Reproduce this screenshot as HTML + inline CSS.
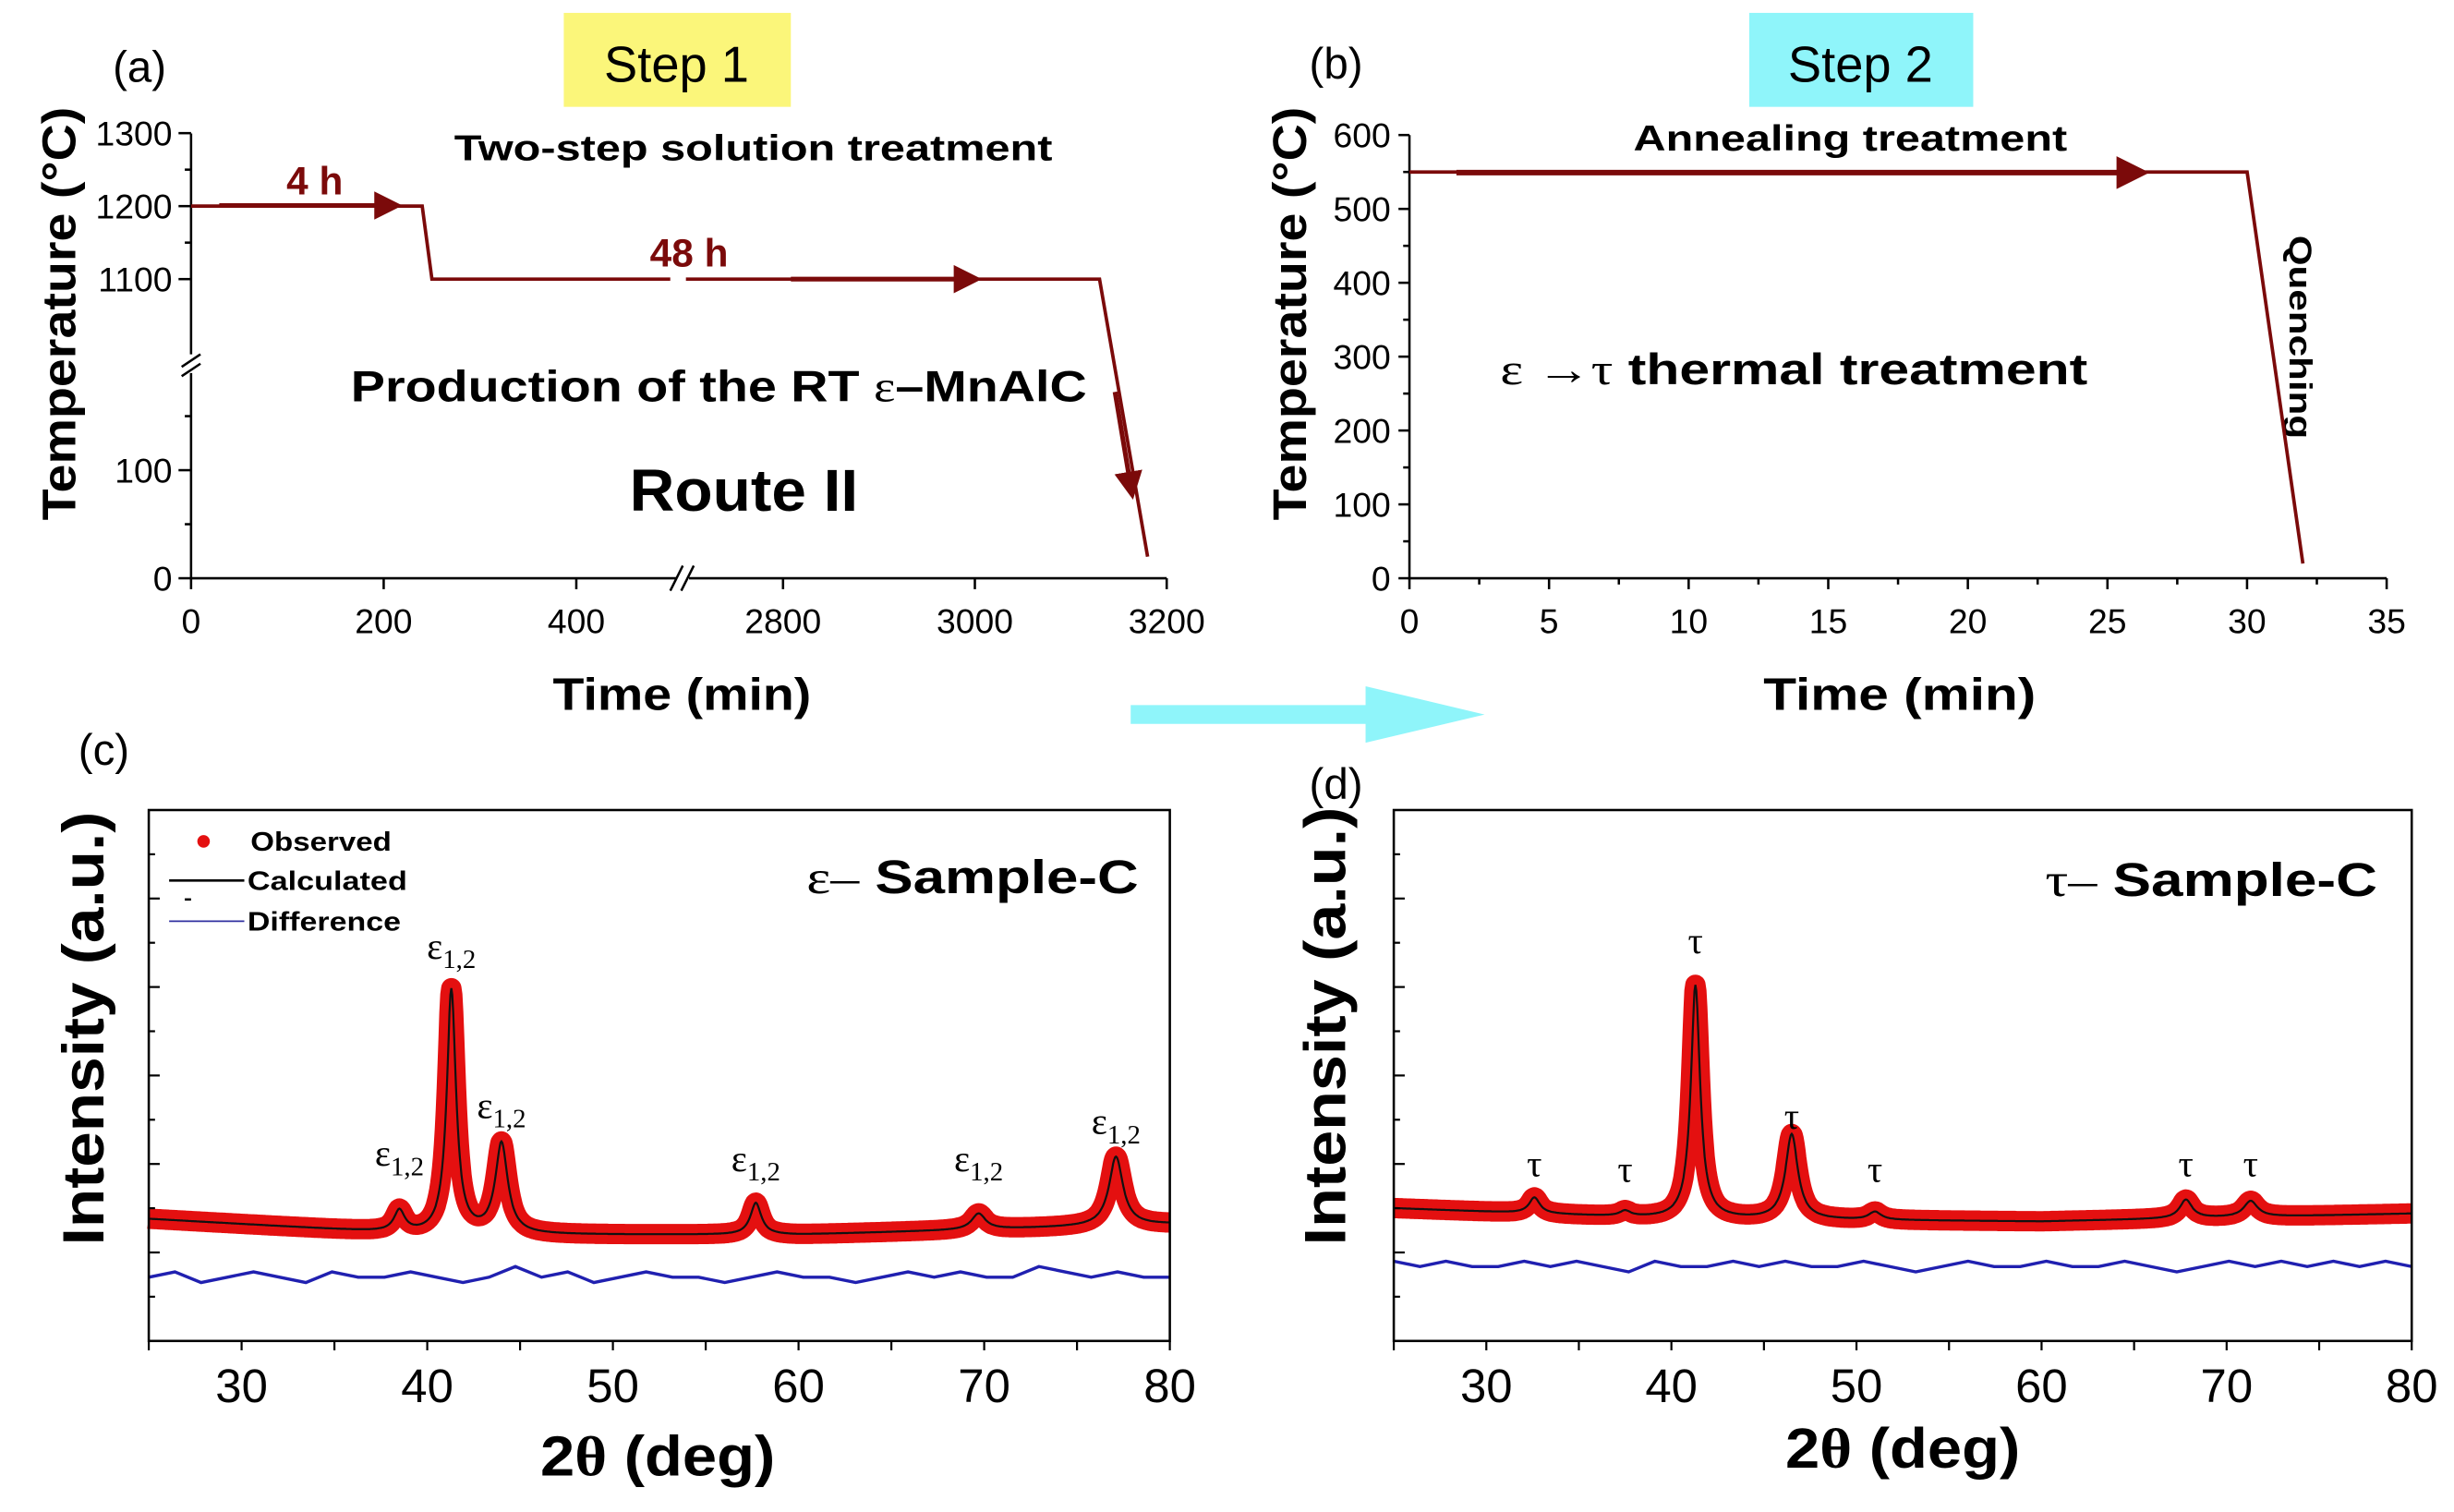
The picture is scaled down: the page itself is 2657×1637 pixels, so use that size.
<!DOCTYPE html>
<html><head><meta charset="utf-8"><style>
html,body{margin:0;padding:0;background:#fff;}
svg{display:block;font-family:"Liberation Sans",Arial,sans-serif;}
</style></head><body>
<svg id="fig" width="2657" height="1637" viewBox="0 0 1567 965" xmlns="http://www.w3.org/2000/svg">
<defs>
<marker id="ah" viewBox="0 0 10 10" refX="5" refY="5" markerWidth="6" markerHeight="6" orient="auto"><path d="M0,0 L10,5 L0,10 z" fill="#7b0a0a"/></marker>
</defs>
<rect width="1567" height="965" fill="#fff"/>
<!-- Panel a -->
<g>
<text x="72" y="52" font-size="28">(a)</text>
<rect x="360" y="8" width="145" height="60" fill="#fbf67a"/>
<text x="432" y="52" font-size="32" text-anchor="middle">Step 1</text>
<text x="290" y="102" font-size="23" font-weight="bold" textLength="382" lengthAdjust="spacingAndGlyphs">Two-step solution treatment</text>
<text x="224" y="256" font-size="28" font-weight="bold" textLength="470" lengthAdjust="spacingAndGlyphs">Production of the RT <tspan font-family="Liberation Serif,serif" font-weight="normal">ε</tspan>–MnAlC</text>
<text x="402" y="326" font-size="38" font-weight="bold" textLength="146" lengthAdjust="spacingAndGlyphs">Route II</text>
<text x="353" y="453" font-size="29" font-weight="bold" textLength="165" lengthAdjust="spacingAndGlyphs">Time (min)</text>
<text transform="translate(48,332) rotate(-90)" font-size="30" font-weight="bold" textLength="264" lengthAdjust="spacingAndGlyphs">Temperature (°C)</text>
<g id="axA" stroke="#000" stroke-width="1.5" fill="none"></g>
<g id="lineA"></g>
<text x="201" y="124" font-size="25" font-weight="bold" fill="#7b0a0a" text-anchor="middle">4 h</text>
<text x="440" y="170" font-size="25" font-weight="bold" fill="#7b0a0a" text-anchor="middle">48 h</text>
</g>
<!-- Panel b -->
<g>
<text x="836" y="50" font-size="28">(b)</text>
<rect x="1117" y="8" width="143" height="60" fill="#8ff5fa"/>
<text x="1188" y="52" font-size="32" text-anchor="middle">Step 2</text>
<text x="1043" y="96" font-size="23" font-weight="bold" textLength="277" lengthAdjust="spacingAndGlyphs">Annealing treatment</text>
<text x="958" y="245" font-size="28" font-weight="bold" textLength="375" lengthAdjust="spacingAndGlyphs"><tspan font-family="Liberation Serif,serif" font-weight="normal">ε →τ</tspan> thermal treatment</text>
<text transform="translate(1462,150) rotate(90)" font-size="20" font-weight="bold" textLength="130" lengthAdjust="spacingAndGlyphs">Quenching</text>
<text x="1126" y="453" font-size="29" font-weight="bold" textLength="174" lengthAdjust="spacingAndGlyphs">Time  (min)</text>
<text transform="translate(834,332) rotate(-90)" font-size="30" font-weight="bold" textLength="264" lengthAdjust="spacingAndGlyphs">Temperature (°C)</text>
<g id="axB" stroke="#000" stroke-width="1.5" fill="none"></g>
<g id="lineB"></g>
</g>
<!-- big cyan arrow -->
<path d="M722,450 L872,450 L872,438 L948,456 L872,474 L872,462 L722,462 Z" fill="#8ff5fa"/>
<!-- Panel c -->
<g>
<text x="50" y="488" font-size="28">(c)</text>
<g id="plotC"></g>
<text x="345" y="942" font-size="36" font-weight="bold" textLength="150" lengthAdjust="spacingAndGlyphs">2<tspan font-family="Liberation Serif,serif">θ</tspan> (deg)</text>
<text transform="translate(66,795) rotate(-90)" font-size="37" font-weight="bold" textLength="277" lengthAdjust="spacingAndGlyphs">Intensity (a.u.)</text>
<text x="515" y="570" font-size="30" font-weight="bold" textLength="212" lengthAdjust="spacingAndGlyphs"><tspan font-family="Liberation Serif,serif" font-weight="normal">ε–</tspan> Sample-C</text>
<circle cx="130" cy="537" r="4" fill="#e41010"/>
<text x="160" y="543" font-size="17" font-weight="bold" textLength="90" lengthAdjust="spacingAndGlyphs">Observed</text>
<line x1="108" y1="562" x2="156" y2="562" stroke="#000" stroke-width="1.5"/>
<text x="158" y="568" font-size="17" font-weight="bold" textLength="102" lengthAdjust="spacingAndGlyphs">Calculated</text>
<line x1="108" y1="588" x2="156" y2="588" stroke="#3030a0" stroke-width="1"/>
<text x="158" y="594" font-size="17" font-weight="bold" textLength="98" lengthAdjust="spacingAndGlyphs">Difference</text>
</g>
<!-- Panel d -->
<g>
<text x="836" y="510" font-size="28">(d)</text>
<g id="plotD"></g>
<text x="1140" y="937" font-size="36" font-weight="bold" textLength="150" lengthAdjust="spacingAndGlyphs">2<tspan font-family="Liberation Serif,serif">θ</tspan> (deg)</text>
<text transform="translate(859,795) rotate(-90)" font-size="37" font-weight="bold" textLength="280" lengthAdjust="spacingAndGlyphs">Intensity (a.u.)</text>
<text x="1306" y="572" font-size="30" font-weight="bold" textLength="212" lengthAdjust="spacingAndGlyphs"><tspan font-family="Liberation Serif,serif" font-weight="normal">τ–</tspan> Sample-C</text>
</g>
</svg>
<script>
// ---- Panel a data ----
const aTimes = [0, 240, 250, 3130, 3180];
const aTemps = [1200, 1200, 1100, 1100, 20];
const aXTicks = [0, 200, 400, 2800, 3000, 3200];
const aYTicks = [0, 100, 1100, 1200, 1300];
// ---- Panel b data ----
const bTimes = [0, 30, 32];
const bTemps = [550, 550, 20];
const bXTicks = [0, 5, 10, 15, 20, 25, 30, 35];
const bYTicks = [0, 100, 200, 300, 400, 500, 600];
// ---- Panel c data ----
const cPeakPos = [38.5, 41.3, 44.0, 57.7, 69.7, 77.1];
const cPeakH = [4, 46, 17, 6, 3, 13];
const cPeakW = [0.35, 0.3, 0.4, 0.35, 0.45, 0.45];
const cBaseX = [25, 40, 60, 80];
const cBaseY = [23, 20, 20, 22];
const cDiff = [12,13,11,12,13,12,11,13,12,12,13,12,11,12,14,12,13,11,12,13,12,12,11,12,13,12,12,11,12,13,12,13,12,12,14,13,12,13,12,12];
const cLabelPos = [38.5, 41.3, 44.0, 57.7, 69.7, 77.1];
const cLabelVal = [33, 72, 42, 32, 32, 39];
// ---- Panel d data ----
const dPeakPos = [32.6, 37.5, 41.3, 46.5, 51.0, 67.8, 71.3];
const dPeakH = [3, 1, 44, 16, 1.5, 3.5, 3];
const dPeakW = [0.35, 0.35, 0.3, 0.4, 0.4, 0.4, 0.45];
const dBaseX = [25, 40, 60, 80];
const dBaseY = [25, 23, 22.5, 24];
const dDiff = [15,14,15,14,14,15,14,15,14,13,15,14,14,15,14,15,14,14,15,14,13,14,15,14,14,15,14,14,15,14,13,14,15,14,15,14,15,14,15,14];
const dLabelPos = [32.6, 37.5, 41.3, 46.5, 51.0, 67.8, 71.3];
const dLabelVal = [31, 30, 73, 40, 30, 31, 31];

const NS = "http://www.w3.org/2000/svg";
function mk(tag, attrs, parent) {
  const e = document.createElementNS(NS, tag);
  for (const k in attrs) e.setAttribute(k, attrs[k]);
  parent.appendChild(e);
  return e;
}
function axXa(t) { return t <= 500 ? 122 + t * 0.615 : 500 + (t - 2800) * 0.6125; }
function axYa(v) { return v <= 200 ? 369 - v * 0.69 : 178 - (v - 1100) * 0.466; }
const axA = document.getElementById('axA');
let l = mk('path', {d: 'M122,85 L122,226 M122,238 L122,369 L432,369 M440,369 L745,369'}, axA);


mk('path', {d: 'M116,234 L128,226 M116,240 L128,232 M428,377 L436,361 M435,377 L443,361'}, axA);
[150, 250, 50, 1150, 1250].forEach(v => { const y = axYa(v); mk('line', {x1: 118, y1: y, x2: 122, y2: y}, axA); });
aYTicks.forEach(v => {
  const y = axYa(v);
  mk('line', {x1: 114, y1: y, x2: 122, y2: y}, axA);
  const t = mk('text', {x: 110, y: y + 8, 'font-size': 22, 'text-anchor': 'end', stroke: 'none', fill: '#000'}, axA);
  t.textContent = v;
  
  
});
aXTicks.forEach(v => {
  const x = axXa(v);
  mk('line', {x1: x, y1: 369, x2: x, y2: 376}, axA);
  const t = mk('text', {x: x, y: 404, 'font-size': 22, 'text-anchor': 'middle', stroke: 'none', fill: '#000'}, axA);
  t.textContent = v;
  
  
});
const lineA = document.getElementById('lineA');
let pa = aTimes.map((t, i) => axXa(t).toFixed(1) + ',' + axYa(aTemps[i]).toFixed(1)).join(' L');
l = mk('path', {d: 'M' + pa, stroke: '#7b0a0a', 'stroke-width': 2.2, fill: 'none'}, lineA);


mk('rect', {x: 428, y: 170, width: 10, height: 16, fill: '#fff'}, lineA);
mk('line', {x1: 140, y1: 131, x2: 248, y2: 131, stroke: '#7b0a0a', 'stroke-width': 3, 'marker-end': 'url(#ah)'}, lineA);
mk('line', {x1: 505, y1: 178, x2: 618, y2: 178, stroke: '#7b0a0a', 'stroke-width': 3, 'marker-end': 'url(#ah)'}, lineA);
mk('line', {x1: 712, y1: 250, x2: 722, y2: 310, stroke: '#7b0a0a', 'stroke-width': 3, 'marker-end': 'url(#ah)'}, lineA);

function axXb(t) { return 900 + t * (1524 - 900) / 35; }
function axYb(v) { return 369 - v * (369 - 86) / 600; }
const axB = document.getElementById('axB');
l = mk('path', {d: 'M900,86 L900,369 L1524,369'}, axB);


bYTicks.forEach(v => {
  const y = axYb(v);
  mk('line', {x1: 893, y1: y, x2: 900, y2: y}, axB);
  if (v < 600) mk('line', {x1: 896, y1: axYb(v + 50), x2: 900, y2: axYb(v + 50)}, axB);
  const t = mk('text', {x: 888, y: y + 8, 'font-size': 22, 'text-anchor': 'end', stroke: 'none', fill: '#000'}, axB);
  t.textContent = v;
  
  
});
bXTicks.forEach(v => {
  const x = axXb(v);
  mk('line', {x1: x, y1: 369, x2: x, y2: 376}, axB);
  if (v < 35) mk('line', {x1: axXb(v + 2.5), y1: 369, x2: axXb(v + 2.5), y2: 373}, axB);
  const t = mk('text', {x: x, y: 404, 'font-size': 22, 'text-anchor': 'middle', stroke: 'none', fill: '#000'}, axB);
  t.textContent = v;
  
  
});
const lineB = document.getElementById('lineB');
let pb = bTimes.map((t, i) => axXb(t).toFixed(1) + ',' + axYb(bTemps[i]).toFixed(1)).join(' L');
l = mk('path', {d: 'M' + pb, stroke: '#7b0a0a', 'stroke-width': 2.2, fill: 'none'}, lineB);


mk('line', {x1: 930, y1: 110, x2: 1362, y2: 110, stroke: '#7b0a0a', 'stroke-width': 3.5, 'marker-end': 'url(#ah)'}, lineB);

function xrd(gid, x0, x1, pos, h, w, bx, by, diff, lpos, lval, sym, sub) {
  const g = document.getElementById(gid);
  const top = 517, bot = 856;
  const X = v => x0 + (v - 25) * (x1 - x0) / 55;
  const Y = v => bot - v * (bot - top) / 100;
  function base(x) {
    for (let i = 0; i < bx.length - 1; i++) if (x <= bx[i + 1]) return by[i] + (by[i + 1] - by[i]) * (x - bx[i]) / (bx[i + 1] - bx[i]);
    return by[by.length - 1];
  }
  function calc(x) {
    let s = base(x);
    pos.forEach((p, i) => { s += h[i] / (1 + Math.pow((x - p) / w[i], 2)); });
    return s;
  }
  let d = '';
  for (let x = 25; x <= 80.001; x += 0.05) d += (d ? ' L' : 'M') + X(x).toFixed(1) + ',' + Y(calc(x)).toFixed(1);
  let e = mk('path', {d: d, stroke: '#e41010', 'stroke-width': 13, fill: 'none', 'stroke-linejoin': 'round'}, g);
  
  
  e = mk('path', {d: d, stroke: '#111', 'stroke-width': 1.3, fill: 'none'}, g);
  
  
  let dd = '';
  diff.forEach((v, i) => {
    const x = 25 + i * 55 / (diff.length - 1);
    dd += (dd ? ' L' : 'M') + X(x).toFixed(1) + ',' + Y(v).toFixed(1);
  });
  e = mk('path', {d: dd, stroke: '#2020b0', 'stroke-width': 2, fill: 'none'}, g);
  
  
  e = mk('rect', {x: x0, y: top, width: x1 - x0, height: bot - top, fill: 'none', stroke: '#000', 'stroke-width': 1.5}, g);
  
  
  for (let i = 1; i < 12; i++) {
    const y = top + i * (bot - top) / 12;
    mk('line', {x1: x0, y1: y, x2: x0 + (i % 2 ? 4 : 7), y2: y, stroke: '#000', 'stroke-width': 1.3}, g);
  }
  for (let v = 25; v <= 80; v += 5) {
    mk('line', {x1: X(v), y1: bot, x2: X(v), y2: bot + 6, stroke: '#000', 'stroke-width': 1.3}, g);
    if (v % 10 === 0) {
      const t = mk('text', {x: X(v), y: bot + 39, 'font-size': 30, 'text-anchor': 'middle'}, g);
      t.textContent = v;
      
      
    }
  }
  lpos.forEach((p, i) => {
    const t = mk('text', {x: X(p), y: Y(lval[i]), 'font-size': 24, 'text-anchor': 'middle', 'font-family': 'Liberation Serif,serif'}, g);
    t.textContent = sym;
    if (sub) {
      const s = mk('tspan', {'font-size': 17, dy: 6}, t);
      s.textContent = sub;
    }
    
    
  });
}
xrd('plotC', 95, 747, cPeakPos, cPeakH, cPeakW, cBaseX, cBaseY, cDiff, cLabelPos, cLabelVal, 'ε', '1,2');
xrd('plotD', 890, 1540, dPeakPos, dPeakH, dPeakW, dBaseX, dBaseY, dDiff, dLabelPos, dLabelVal, 'τ', '');
</script>
</body></html>
